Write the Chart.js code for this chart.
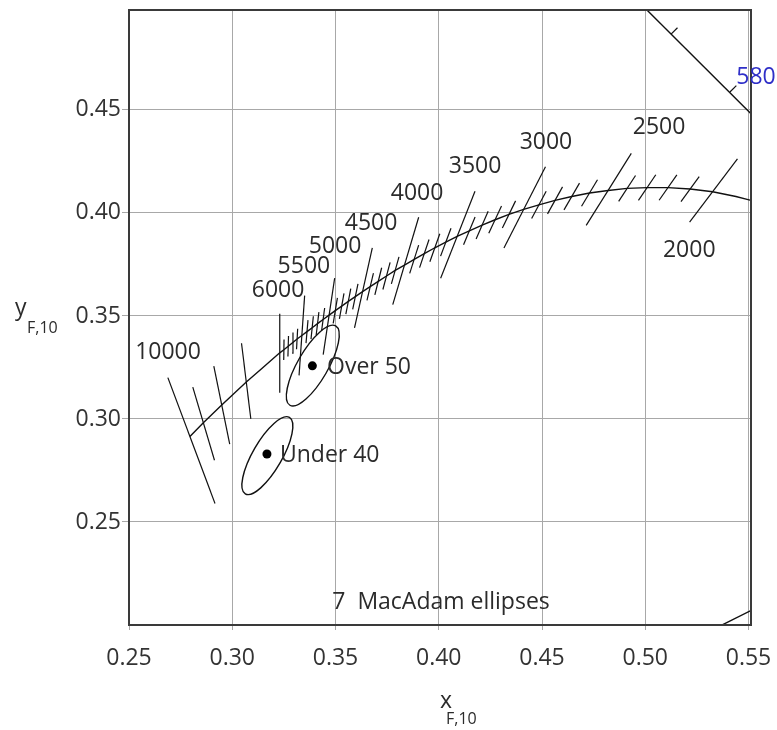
<!DOCTYPE html>
<html><head><meta charset="utf-8">
<script src="https://cdn.jsdelivr.net/npm/chart.js@4.4.1/dist/chart.umd.min.js"></script>
<style>html,body{margin:0;padding:0;background:#fff}canvas{display:block}</style>
</head><body>
<canvas id="c" width="777" height="730"></canvas>
<script>
// ---- axes ----
const xTicks = [0.25, 0.30, 0.35, 0.40, 0.45, 0.50, 0.55];
const yTicks = [0.25, 0.30, 0.35, 0.40, 0.45];
const xRange = [0.25, 0.5512];
const yRange = [0.20, 0.4985];

// ---- Planckian locus (CCT in K) ----
const locusT = [10000, 9000, 8000, 7000, 6500, 6000, 5900, 5800, 5700, 5600, 5500, 5400, 5300, 5200, 5100, 5000,
  4900, 4800, 4700, 4600, 4500, 4400, 4300, 4200, 4100, 4000, 3900, 3800, 3700, 3600, 3500, 3400, 3300, 3200, 3100, 3000,
  2900, 2800, 2700, 2600, 2500, 2400, 2300, 2200, 2100, 2000, 1900, 1800];
const locusX = [0.2795, 0.2860, 0.2949, 0.3068, 0.3142, 0.3230, 0.3250, 0.3271, 0.3292, 0.3314, 0.3337, 0.3362, 0.3387, 0.3413, 0.3440, 0.3469,
  0.3499, 0.3530, 0.3562, 0.3596, 0.3631, 0.3668, 0.3707, 0.3747, 0.3789, 0.3834, 0.3881, 0.3930, 0.3981, 0.4034, 0.4089, 0.4148, 0.4210, 0.4273, 0.4340, 0.4411,
  0.4485, 0.4563, 0.4644, 0.4730, 0.4820, 0.4912, 0.5009, 0.5110, 0.5217, 0.5326, 0.5439, 0.5554];
const locusY = [0.2915, 0.2982, 0.3068, 0.3179, 0.3244, 0.3321, 0.3336, 0.3353, 0.3370, 0.3388, 0.3405, 0.3424, 0.3443, 0.3463, 0.3483, 0.3504,
  0.3526, 0.3548, 0.3571, 0.3594, 0.3618, 0.3642, 0.3668, 0.3694, 0.3721, 0.3747, 0.3775, 0.3803, 0.3831, 0.3858, 0.3886, 0.3913, 0.3941, 0.3967, 0.3993, 0.4017,
  0.4039, 0.4061, 0.4080, 0.4097, 0.4109, 0.4119, 0.4123, 0.4123, 0.4116, 0.4103, 0.4080, 0.4050];

// ---- isotemperature lines: tilt from vertical (deg, + = top leans right), upper / lower half length ----
const isoT = [10000, 9000, 8000, 7000, 6000, 5900, 5800, 5700, 5600, 5500, 5400, 5300, 5200, 5100, 5000,
  4900, 4800, 4700, 4600, 4500, 4400, 4300, 4200, 4100, 4000, 3900, 3800, 3700, 3600, 3500, 3400, 3300, 3200, 3100, 3000,
  2900, 2800, 2700, 2600, 2500, 2400, 2300, 2200, 2100, 2000];
const isoTilt = [-20.5, -16.5, -11.5, -7, 0, 0.8, 1.6, 2.4, 3.2, 4, 4.9, 5.8, 6.7, 7.6, 8.5,
  9.3, 10.1, 10.9, 11.7, 12.5, 13.3, 14.1, 14.9, 15.7, 16.5, 17.5, 18.5, 19.5, 20.5, 21.5, 22.5, 23.5, 25, 26, 27,
  28, 29, 30, 31, 32, 33, 34, 35, 36, 37];
const isoUp = [0.0305, 0.0180, 0.0192, 0.0190, 0.0190, 0.0050, 0.0050, 0.0050, 0.0050, 0.0194, 0.0056, 0.0056, 0.0056, 0.0056, 0.0182,
  0.0063, 0.0063, 0.0063, 0.0063, 0.0218, 0.0068, 0.0068, 0.0068, 0.0068, 0.0242, 0.0072, 0.0072, 0.0072, 0.0072, 0.0236, 0.0073, 0.0073, 0.0073, 0.0073, 0.0233,
  0.0075, 0.0075, 0.0075, 0.0075, 0.0212, 0.0075, 0.0075, 0.0075, 0.0075, 0.0200];
const isoDown = [0.0347, 0.0190, 0.0194, 0.0180, 0.0194, 0.0050, 0.0050, 0.0050, 0.0050, 0.0194, 0.0056, 0.0056, 0.0056, 0.0056, 0.0194,
  0.0063, 0.0063, 0.0063, 0.0063, 0.0180, 0.0068, 0.0068, 0.0068, 0.0068, 0.0200, 0.0072, 0.0072, 0.0072, 0.0072, 0.0218, 0.0073, 0.0073, 0.0073, 0.0073, 0.0210,
  0.0075, 0.0075, 0.0075, 0.0075, 0.0200, 0.0075, 0.0075, 0.0075, 0.0075, 0.0185];

// ---- CCT labels ----
const tempLabels = ['10000', '6000', '5500', '5000', '4500', '4000', '3500', '3000', '2500', '2000'];
const tempLabelX = [0.2689, 0.3222, 0.3347, 0.3498, 0.3672, 0.3895, 0.4176, 0.4519, 0.5067, 0.5213];
const tempLabelY = [0.3325, 0.3626, 0.3738, 0.3835, 0.3951, 0.4097, 0.4228, 0.4340, 0.4417, 0.3820];

// ---- spectrum locus piece, its wavelength ticks and label ----
const specX = [0.4950, 0.5560];
const specY = [0.5043, 0.4433];
const specTickX = [0.5125, 0.5410];
const specTickY = [0.4868, 0.4587];
const specTickLen = 0.0031;
const specLabel = '580';
const specLabelX = 0.5536, specLabelY = 0.4660;

// ---- line in the lower right corner ----
const cornerX = [0.5300, 0.5600];
const cornerY = [0.1964, 0.2115];

// ---- observer groups: mean points and 7-step MacAdam ellipses ----
const groupNames = ['Over 50', 'Under 40'];
const groupX = [0.3388, 0.3168];
const groupY = [0.3258, 0.2830];
const ellCX = [0.3390, 0.3170];
const ellCY = [0.3259, 0.2822];
const ellA = [0.0222, 0.0214];
const ellB = [0.0074, 0.0071];
const ellAngle = [60, 60];
const groupLabelX = [0.3459, 0.3231];
const groupLabelY = [0.3252, 0.2825];

const noteText = '7  MacAdam ellipses';
const noteX = 0.4011, noteY = 0.2108;

const FONT = '"Open Sans", "Noto Sans", sans-serif';
const INK = '#111';

const datasets = [];
datasets.push({ data: locusX.map((x, i) => ({ x, y: locusY[i] })), showLine: true, borderColor: INK, borderWidth: 1.4, pointRadius: 0 });
isoT.forEach((t, k) => {
  const i = locusT.indexOf(t);
  const r = isoTilt[k] * Math.PI / 180;
  const sx = Math.sin(r), sy = Math.cos(r);
  datasets.push({
    data: [{ x: locusX[i] - sx * isoDown[k], y: locusY[i] - sy * isoDown[k] },
           { x: locusX[i] + sx * isoUp[k], y: locusY[i] + sy * isoUp[k] }],
    showLine: true, borderColor: INK, borderWidth: 1.2, pointRadius: 0
  });
});
datasets.push({ data: specX.map((x, i) => ({ x, y: specY[i] })), showLine: true, borderColor: INK, borderWidth: 1.4, pointRadius: 0 });
specTickX.forEach((x, i) => {
  datasets.push({ data: [{ x, y: specTickY[i] }, { x: x + specTickLen, y: specTickY[i] + specTickLen }], showLine: true, borderColor: INK, borderWidth: 1.2, pointRadius: 0 });
});
datasets.push({ data: cornerX.map((x, i) => ({ x, y: cornerY[i] })), showLine: true, borderColor: INK, borderWidth: 1.4, pointRadius: 0 });
datasets.push({ data: groupX.map((x, i) => ({ x, y: groupY[i] })), showLine: false, pointRadius: 4.5, pointBackgroundColor: '#000', pointBorderColor: '#000', pointBorderWidth: 0 });

const extras = {
  id: 'extras',
  beforeDatasetsDraw(chart) {
    const { ctx, chartArea: a, scales: { x, y } } = chart;
    ctx.save();
    ctx.beginPath(); ctx.rect(a.left, a.top, a.right - a.left, a.bottom - a.top); ctx.clip();
    ctx.strokeStyle = INK; ctx.lineWidth = 1.4;
    const kx = Math.abs(x.getPixelForValue(1) - x.getPixelForValue(0));
    const ky = Math.abs(y.getPixelForValue(1) - y.getPixelForValue(0));
    const k = (kx + ky) / 2;
    ellCX.forEach((cx, i) => {
      ctx.beginPath();
      ctx.ellipse(x.getPixelForValue(cx), y.getPixelForValue(ellCY[i]), ellA[i] * k, ellB[i] * k, -ellAngle[i] * Math.PI / 180, 0, Math.PI * 2);
      ctx.stroke();
    });
    ctx.restore();
  },
  afterDraw(chart) {
    const { ctx, chartArea: a, scales: { x, y } } = chart;
    ctx.save();
    // frame
    ctx.strokeStyle = '#3a3a3a'; ctx.lineWidth = 2;
    ctx.strokeRect(a.left, a.top, a.right - a.left, a.bottom - a.top);
    // CCT labels
    ctx.fillStyle = '#2b2b2b';
    ctx.font = '23px ' + FONT;
    ctx.textAlign = 'center'; ctx.textBaseline = 'middle';
    tempLabels.forEach((t, i) => ctx.fillText(t, x.getPixelForValue(tempLabelX[i]), y.getPixelForValue(tempLabelY[i])));
    ctx.fillText(noteText, x.getPixelForValue(noteX), y.getPixelForValue(noteY));
    ctx.textAlign = 'left';
    groupNames.forEach((t, i) => ctx.fillText(t, x.getPixelForValue(groupLabelX[i]), y.getPixelForValue(groupLabelY[i])));
    ctx.fillStyle = '#2f2fc8'; ctx.textAlign = 'center';
    ctx.fillText(specLabel, x.getPixelForValue(specLabelX), y.getPixelForValue(specLabelY));
    // axis titles with subscripts
    ctx.fillStyle = '#2b2b2b'; ctx.textAlign = 'left'; ctx.textBaseline = 'alphabetic';
    ctx.font = '23px ' + FONT;
    ctx.fillText('y', 15, 315);
    ctx.fillText('x', 440, 708);
    ctx.font = '16px ' + FONT;
    ctx.fillText('F,10', 27, 333);
    ctx.fillText('F,10', 446, 724);
    ctx.restore();
  }
};

new Chart(document.getElementById('c'), {
  type: 'scatter',
  data: { datasets },
  options: {
    responsive: false, animation: false, devicePixelRatio: 1,
    layout: { padding: { top: 10, right: 26, left: 0, bottom: 0 } },
    plugins: { legend: { display: false }, tooltip: { enabled: false } },
    scales: {
      x: {
        type: 'linear', min: xRange[0], max: xRange[1],
        afterBuildTicks: s => { s.ticks = xTicks.map(v => ({ value: v })); },
        afterFit: s => { s.height = 105; s.paddingLeft = 0; s.paddingRight = 0; },
        grid: { color: '#a8a8a8', lineWidth: 1, tickLength: 5 },
        border: { display: false },
        ticks: { font: { family: FONT, size: 23 }, color: '#333', padding: 15, maxRotation: 0, autoSkip: false, callback: v => v.toFixed(2) }
      },
      y: {
        type: 'linear', min: yRange[0], max: yRange[1],
        afterBuildTicks: s => { s.ticks = yTicks.map(v => ({ value: v })); },
        afterFit: s => { s.width = 129; s.paddingTop = 0; s.paddingBottom = 0; },
        grid: { color: '#a8a8a8', lineWidth: 1, tickLength: 7 },
        border: { display: false },
        ticks: { font: { family: FONT, size: 23 }, color: '#333', padding: 1, autoSkip: false, callback: v => v.toFixed(2) }
      }
    }
  },
  plugins: [extras]
});
</script>
</body></html>
